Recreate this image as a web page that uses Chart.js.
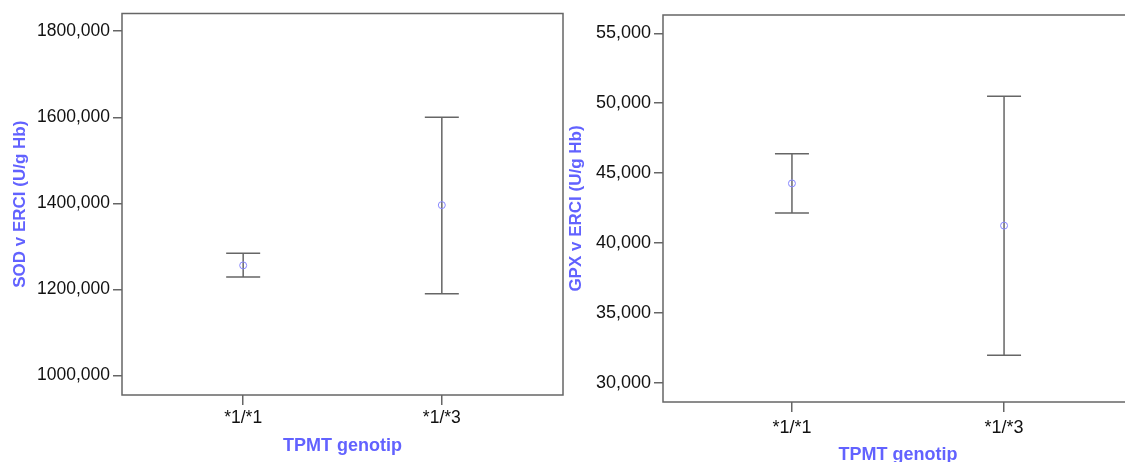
<!DOCTYPE html>
<html>
<head>
<meta charset="utf-8">
<script src="https://cdn.jsdelivr.net/npm/chart.js@4/dist/chart.umd.min.js"></script>
<style>
  html, body { margin: 0; padding: 0; background: #fff; overflow: hidden; width: 1125px; height: 462px; }
  #sodChart { position: absolute; left: 0; top: 0; }
  #gpxChart { position: absolute; left: 565px; top: 0; }
</style>
</head>
<body>
<canvas id="sodChart" width="570" height="462"></canvas>
<canvas id="gpxChart" width="580" height="462"></canvas>
<script>
const genotypes = ['*1/*1', '*1/*3'];

// SOD v ERCI (U/g Hb): mean and 95% CI
const sodMean = [1256, 1396];
const sodLow = [1229, 1190];
const sodHigh = [1284, 1600];
const sodTicks = [1000, 1200, 1400, 1600, 1800];

// GPX v ERCI (U/g Hb)
const gpxMean = [44.26, 41.24];
const gpxLow = [42.14, 31.97];
const gpxHigh = [46.38, 50.50];
const gpxTicks = [30, 35, 40, 45, 50, 55];

const blue = 'rgb(98,98,255)';
const grey = '#666';

// whiskers + box around plot area
const errorBars = {
  id: 'errorBars',
  beforeDatasetsDraw(chart) {
    const ctx = chart.ctx;
    const a = chart.chartArea;
    const xs = chart.scales.x, ys = chart.scales.y;
    ctx.save();
    ctx.strokeStyle = grey;
    ctx.lineWidth = 1.5;
    ctx.strokeRect(a.left, a.top, a.right - a.left, a.bottom - a.top);
    chart.data.datasets.forEach(ds => {
      ds.data.forEach((p, i) => {
        const x = xs.getPixelForValue(p.x);
        const y1 = ys.getPixelForValue(ds.low[i]);
        const y2 = ys.getPixelForValue(ds.high[i]);
        ctx.beginPath();
        ctx.moveTo(x, y1); ctx.lineTo(x, y2);
        ctx.moveTo(x - 17, y1); ctx.lineTo(x + 17, y1);
        ctx.moveTo(x - 17, y2); ctx.lineTo(x + 17, y2);
        ctx.stroke();
      });
    });
    ctx.restore();
  }
};

function fmt(v) {
  return v.toFixed(3).replace('.', ',');
}

function makeChart(id, mean, low, high, ticks, yMin, yMax, xPad, yTitle, lay) {
  const ctx = document.getElementById(id);
  return new Chart(ctx, {
    type: 'scatter',
    data: {
      datasets: [{
        data: mean.map((m, i) => ({ x: i + 1, y: m })),
        low: low,
        high: high,
        pointRadius: 3.5,
        pointBorderWidth: 1,
        borderColor: 'rgb(135,135,255)',
        backgroundColor: 'rgba(0,0,0,0)'
      }]
    },
    options: {
      responsive: false,
      animation: false,
      events: [],
      layout: { padding: { top: lay.top, right: lay.right, bottom: 0, left: 0 } },
      plugins: { legend: { display: false }, tooltip: { enabled: false } },
      scales: {
        x: {
          type: 'linear',
          min: 1 - xPad,
          max: 2 + xPad,
          afterBuildTicks: s => { s.ticks = [{ value: 1 }, { value: 2 }]; },
          afterFit: s => { s.height = lay.xh; },
          ticks: {
            callback: v => genotypes[v - 1],
            color: '#111',
            padding: lay.xtp,
            maxRotation: 0,
            font: { family: 'Liberation Sans', size: lay.fs }
          },
          grid: { drawOnChartArea: false, drawTicks: true, tickLength: 10, color: grey, lineWidth: 1.5 },
          border: { display: false },
          title: {
            display: true,
            text: 'TPMT genotip',
            color: blue,
            padding: { top: 0, bottom: lay.xtb },
            font: { family: 'Liberation Sans', size: 18, weight: 'bold', lineHeight: 1 }
          }
        },
        y: {
          min: yMin,
          max: yMax,
          afterBuildTicks: s => { s.ticks = ticks.map(v => ({ value: v })); },
          afterFit: s => { s.width = lay.yw; },
          ticks: {
            callback: v => fmt(v),
            color: '#111',
            padding: 3,
            font: { family: 'Liberation Sans', size: lay.fs }
          },
          grid: { drawOnChartArea: false, drawTicks: true, tickLength: 9, color: grey, lineWidth: 1.5 },
          border: { display: false },
          title: {
            display: true,
            text: yTitle,
            color: blue,
            padding: { top: lay.ytp, bottom: 0 },
            font: { family: 'Liberation Sans', size: 17, weight: 'bold', lineHeight: 1 }
          }
        }
      }
    },
    plugins: [errorBars]
  });
}

makeChart('sodChart', sodMean, sodLow, sodHigh, sodTicks, 955, 1841, 0.61, 'SOD v ERCI (U/g Hb)',
  { top: 13, right: 7, xh: 67, yw: 122, fs: 17.5, xtp: 3, xtb: 7, ytp: 12 });

makeChart('gpxChart', gpxMean, gpxLow, gpxHigh, gpxTicks, 28.62, 56.31, 0.608, 'GPX v ERCI (U/g Hb)',
  { top: 15, right: 12, xh: 60, yw: 98, fs: 18, xtp: 5, xtb: -2, ytp: 2.5 });
</script>
</body>
</html>
